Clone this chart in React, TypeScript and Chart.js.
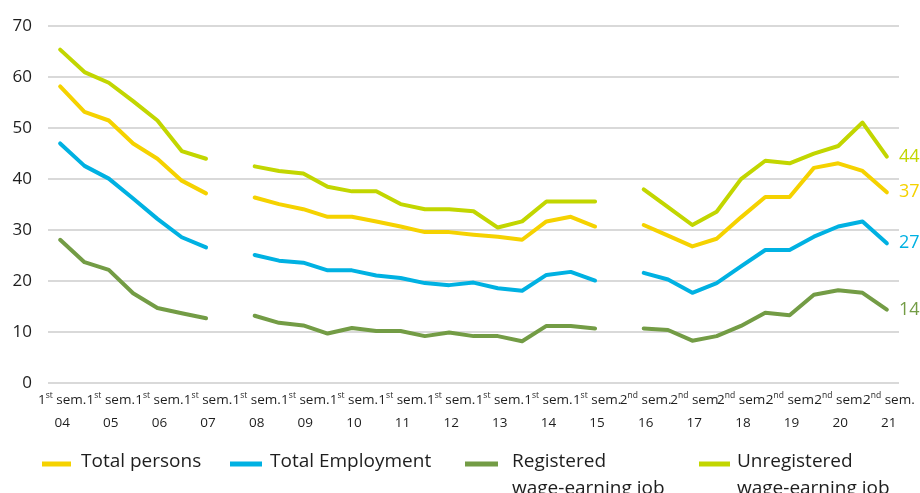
import React, { useEffect, useRef } from "react";
import { Chart, registerables } from "chart.js";

Chart.register(...registerables);

// Survey periods (semesters). The two missing points break the series.
const categories = [
  "1st sem. 04", "2nd sem. 04", "1st sem. 05", "2nd sem. 05", "1st sem. 06", "2nd sem. 06",
  "1st sem. 07", "2nd sem. 07", "1st sem. 08", "2nd sem. 08", "1st sem. 09", "2nd sem. 09",
  "1st sem. 10", "2nd sem. 10", "1st sem. 11", "2nd sem. 11", "1st sem. 12", "2nd sem. 12",
  "1st sem. 13", "2nd sem. 13", "1st sem. 14", "2nd sem. 14", "1st sem. 15", "1st sem. 16",
  "2nd sem. 16", "1st sem. 17", "2nd sem 17", "1st sem. 18", "2nd sem. 18", "1st sem. 19",
  "2nd sem. 19", "1st sem. 20", "2nd sem. 20", "1st sem. 21", "2nd sem. 21",
];

const totalPersons = [
  58.2, 53.2, 51.5, 47.0, 44.0, 39.7, 37.2, null,
  36.4, 35.1, 34.1, 32.6, 32.6, 31.7, 30.7, 29.6, 29.6, 29.1, 28.7, 28.1, 31.7, 32.6, 30.7, null,
  31.0, 28.9, 26.8, 28.3, 32.5, 36.5, 36.5, 42.2, 43.1, 41.6, 37.4,
];

const totalEmployment = [
  47.0, 42.6, 40.1, 36.2, 32.2, 28.6, 26.6, null,
  25.1, 24.0, 23.6, 22.1, 22.1, 21.1, 20.6, 19.6, 19.2, 19.7, 18.6, 18.1, 21.2, 21.8, 20.1, null,
  21.6, 20.3, 17.7, 19.6, 22.9, 26.1, 26.1, 28.7, 30.7, 31.7, 27.4,
];

const registeredJob = [
  28.1, 23.7, 22.2, 17.6, 14.7, 13.7, 12.7, null,
  13.2, 11.8, 11.3, 9.7, 10.8, 10.2, 10.2, 9.2, 9.9, 9.2, 9.2, 8.2, 11.2, 11.2, 10.7, null,
  10.7, 10.4, 8.3, 9.2, 11.2, 13.8, 13.3, 17.3, 18.2, 17.7, 14.4,
];

const unregisteredJob = [
  65.4, 61.0, 58.9, 55.3, 51.5, 45.5, 44.0, null,
  42.5, 41.6, 41.1, 38.5, 37.6, 37.6, 35.1, 34.1, 34.1, 33.7, 30.5, 31.7, 35.6, 35.6, 35.6, null,
  38.0, 34.5, 31.0, 33.6, 40.0, 43.6, 43.1, 45.0, 46.5, 51.1, 44.4,
];

const seriesNames = [
  ["Total persons"],
  ["Total Employment"],
  ["Registered", "wage-earning job"],
  ["Unregistered", "wage-earning job"],
];

const yTicks = [0, 10, 20, 30, 40, 50, 60, 70];

const COLORS = ["#F5D200", "#00B1E2", "#739C45", "#C2D600"];
const FONT = "'Open Sans', 'Noto Sans', sans-serif";
const TEXT = "#1e1e1e";

// Two-line semester labels under every second period, with a raised ordinal suffix.
const semesterLabels = {
  id: "semesterLabels",
  afterDraw(chart: any) {
    const { ctx } = chart;
    const xs = chart.scales.x;
    ctx.save();
    ctx.fillStyle = TEXT;
    ctx.textBaseline = "middle";
    ctx.textAlign = "left";
    categories.forEach((label, i) => {
      if (i % 2 !== 0) return;
      const m = label.match(/^(\d)(st|nd) (sem\.?) (\d\d)$/);
      if (!m) return;
      const cx = xs.getPixelForValue(i) + 2;
      const big = `13.5px ${FONT}`;
      const small = `8.5px ${FONT}`;
      ctx.font = big;
      const w1 = ctx.measureText(m[1]).width;
      const w3 = ctx.measureText(" " + m[3]).width;
      ctx.font = small;
      const w2 = ctx.measureText(m[2]).width;
      let x = cx - (w1 + w2 + w3) / 2;
      const y1 = 400;
      ctx.font = big;
      ctx.fillText(m[1], x, y1);
      x += w1;
      ctx.font = small;
      ctx.fillText(m[2], x, y1 - 4);
      x += w2;
      ctx.font = big;
      ctx.fillText(" " + m[3], x, y1);
      ctx.textAlign = "center";
      ctx.fillText(m[4], cx, 423);
      ctx.textAlign = "left";
    });
    ctx.restore();
  },
};

// Latest value of each series, printed just right of the plot.
const endValues = {
  id: "endValues",
  afterDatasetsDraw(chart: any) {
    const { ctx, chartArea } = chart;
    ctx.save();
    ctx.font = `18px ${FONT}`;
    ctx.textAlign = "left";
    ctx.textBaseline = "middle";
    chart.data.datasets.forEach((ds: any, di: number) => {
      const meta = chart.getDatasetMeta(di);
      const last = ds.data.length - 1;
      const pt = meta.data[last];
      if (!pt) return;
      ctx.fillStyle = ds.borderColor;
      ctx.fillText(String(Math.round(ds.data[last])), chartArea.right, pt.y);
    });
    ctx.restore();
  },
};

// Bottom legend with short thick line markers and wrapped names.
const lineLegend = {
  id: "lineLegend",
  afterDraw(chart: any) {
    const { ctx } = chart;
    const markerFrom = [42, 230, 465, 699];
    const markerTo = [71, 262, 498, 730];
    const textAt = [81, 270, 512, 737];
    ctx.save();
    chart.data.datasets.forEach((ds: any, i: number) => {
      ctx.strokeStyle = ds.borderColor;
      ctx.lineWidth = 5;
      ctx.lineCap = "butt";
      ctx.beginPath();
      ctx.moveTo(markerFrom[i], 464);
      ctx.lineTo(markerTo[i], 464);
      ctx.stroke();
      ctx.fillStyle = TEXT;
      ctx.font = `19px ${FONT}`;
      ctx.textAlign = "left";
      ctx.textBaseline = "middle";
      seriesNames[i].forEach((line, li) => {
        ctx.fillText(line, textAt[i], 462 + li * 27);
      });
    });
    ctx.restore();
  },
};

export default function App() {
  const canvasRef = useRef<HTMLCanvasElement | null>(null);

  useEffect(() => {
    document.body.style.margin = "0";
    const canvas = canvasRef.current;
    if (!canvas) return;
    const series = [totalPersons, totalEmployment, registeredJob, unregisteredJob];
    const chart = new Chart(canvas, {
      type: "line",
      data: {
        labels: categories,
        datasets: series.map((data, i) => ({
          label: seriesNames[i].join(" "),
          data,
          borderColor: COLORS[i],
          backgroundColor: COLORS[i],
          borderWidth: 4,
          pointRadius: 0,
          pointHoverRadius: 0,
          tension: 0,
          spanGaps: false,
          borderCapStyle: "round",
          borderJoinStyle: "round",
          fill: false,
        })),
      },
      options: {
        responsive: false,
        animation: false,
        events: [],
        layout: { padding: { top: 25, right: 21, bottom: 0, left: 0 } },
        plugins: {
          legend: { display: false },
          tooltip: { enabled: false },
        },
        scales: {
          x: {
            type: "category",
            offset: true,
            grid: { display: false },
            border: { display: false },
            ticks: { display: false },
            afterFit: (s: any) => {
              s.height = 110;
            },
          },
          y: {
            min: yTicks[0],
            max: yTicks[yTicks.length - 1],
            afterBuildTicks: (s: any) => {
              s.ticks = yTicks.map((v) => ({ value: v }));
            },
            ticks: {
              padding: 16,
              color: TEXT,
              font: { family: FONT, size: 17 },
            },
            grid: { color: "#d9d9d9", lineWidth: 2, drawTicks: false },
            border: { display: false },
            afterFit: (s: any) => {
              s.width = 48;
            },
          },
        },
      },
      plugins: [semesterLabels, endValues, lineLegend],
    } as any);
    return () => chart.destroy();
  }, []);

  return (
    <div style={{ width: 920, height: 493, background: "#fff" }}>
      <canvas ref={canvasRef} width={920} height={493} style={{ display: "block" }} />
    </div>
  );
}
